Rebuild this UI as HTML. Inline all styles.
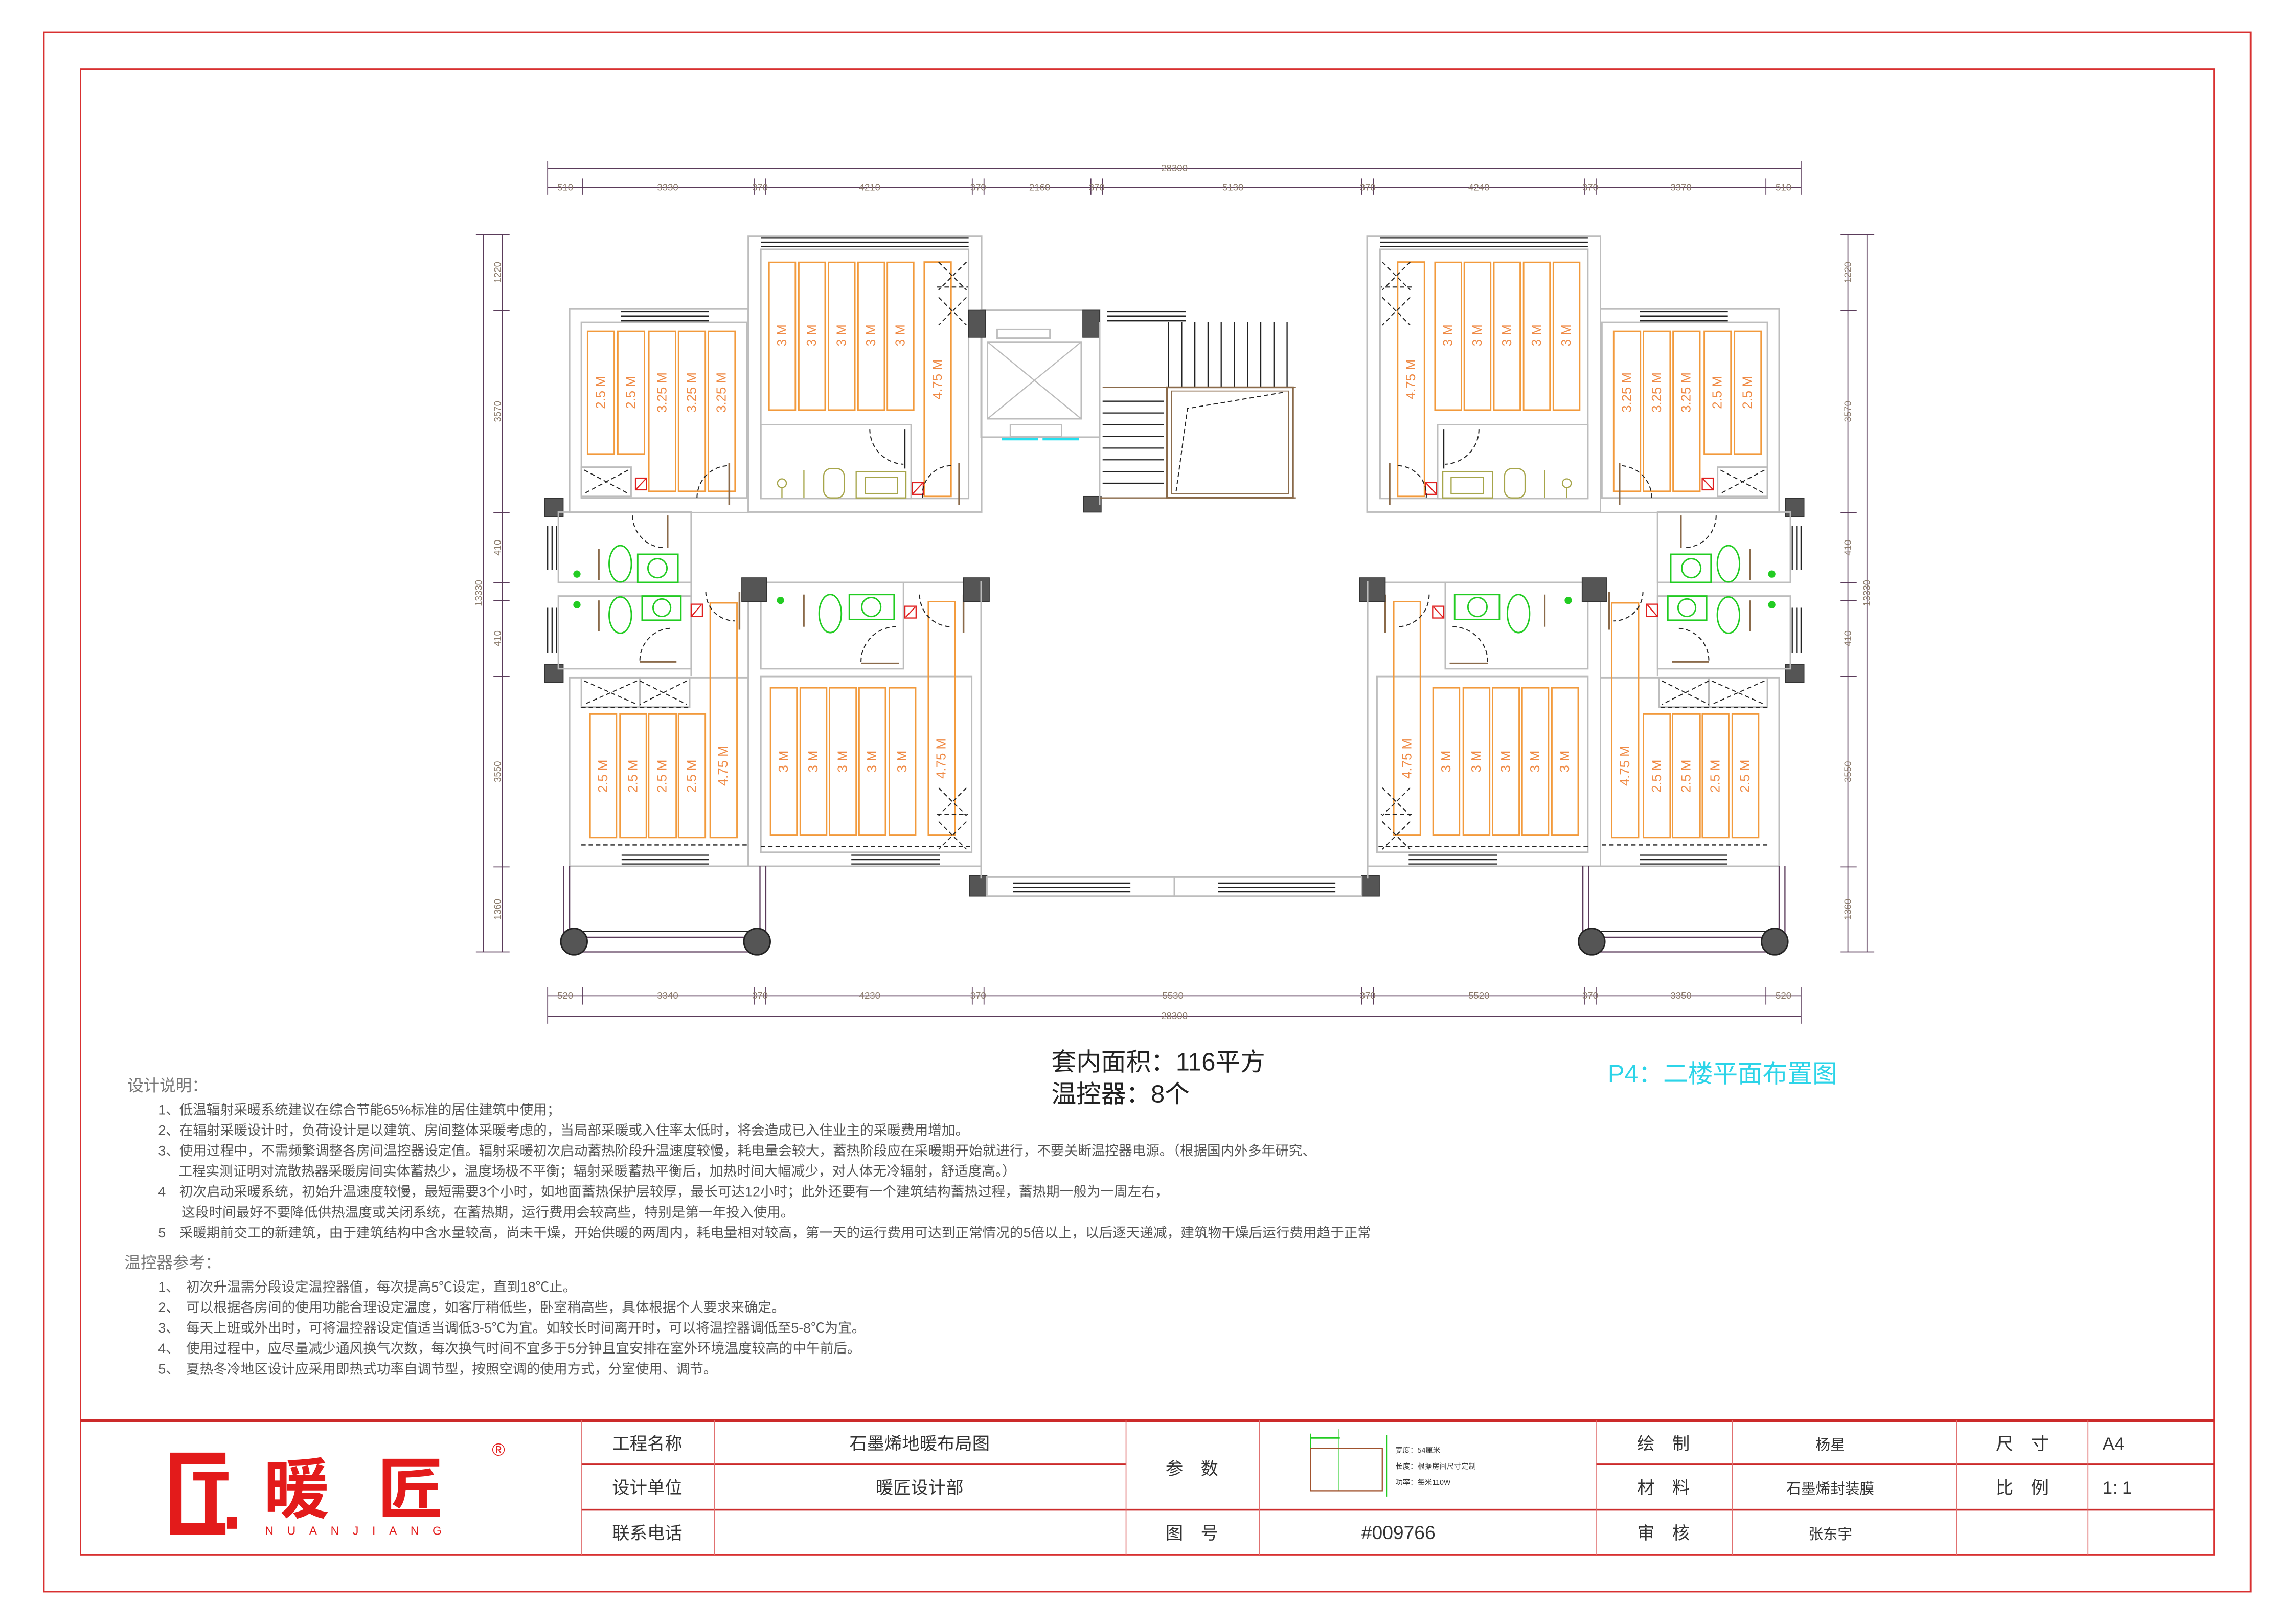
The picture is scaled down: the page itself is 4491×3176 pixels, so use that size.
<!DOCTYPE html>
<html><head><meta charset="utf-8"><style>
html,body{margin:0;padding:0;background:#fff}
svg{display:block}
text{font-family:"Liberation Sans","Noto Sans CJK SC",sans-serif}
.w{fill:none;stroke:#bdbdbd;stroke-width:1}
.st{fill:none;stroke:#f29a3c;stroke-width:1}
.sl{fill:#ef8a45;font-size:9px}
.win{stroke:#222;stroke-width:.8}
.col{fill:#555;stroke:#333;stroke-width:.6}
.dr{fill:none;stroke:#222;stroke-width:.7;stroke-dasharray:3 2}
.g{fill:none;stroke:#22cc22;stroke-width:1}
.o{fill:none;stroke:#a6a54a;stroke-width:.8}
.th{fill:none;stroke:#e02020;stroke-width:.8}
.dim{stroke:#5a3b5a;stroke-width:.6;fill:none}
.dt{fill:#8a7a6a;font-size:6.5px}
.nt{fill:#555;font-size:9.3px}
.tb{fill:#333;font-size:12px}
</style></head><body>
<svg width="4491" height="3176" viewBox="0 0 1568 1109" preserveAspectRatio="none" xmlns="http://www.w3.org/2000/svg">
<rect x="0" y="0" width="1568" height="1109" fill="#fff"/>
<rect x="30" y="22" width="1507" height="1065" fill="none" stroke="#d83030" stroke-width="1"/>
<rect x="55" y="47" width="1457" height="1015" fill="none" stroke="#d83030" stroke-width="1"/>

<defs>
<g id="L">
 <rect class="w" x="389" y="211" width="122" height="139"/>
 <rect class="w" x="397" y="220" width="113" height="120"/>
 <line class="win" x1="424" y1="213" x2="484" y2="213"/><line class="win" x1="424" y1="216" x2="484" y2="216"/><line class="win" x1="424" y1="219" x2="484" y2="219"/>
 <rect class="st" x="401.3" y="226.3" width="18.2" height="83.7"/>
 <rect class="st" x="421.9" y="226.3" width="18.2" height="83.7"/>
 <rect class="st" x="443.1" y="226.3" width="18.3" height="109.2"/>
 <rect class="st" x="463.4" y="226.3" width="18.3" height="109.2"/>
 <rect class="st" x="483.7" y="226.3" width="18.3" height="109.2"/>
 <rect class="w" x="397" y="319" width="34" height="20"/>
 <path class="dr" d="M399 321 L429 337 M429 321 L399 337"/>
 <path class="dr" d="M476 340 A22 22 0 0 1 498 318"/>
 <line x1="498" y1="316" x2="498" y2="345" stroke="#8a6a4a" stroke-width="1.2"/>
 <rect class="th" x="434" y="326.5" width="7.5" height="8"/><path class="th" d="M434.5 334 L441 327"/>
 <rect class="w" x="511" y="161.2" width="159.4" height="188.5"/>
 <rect class="w" x="519.6" y="170" width="141.9" height="170.4"/>
 <line class="win" x1="519.6" y1="162.5" x2="661.5" y2="162.5"/><line class="win" x1="519.6" y1="165.5" x2="661.5" y2="165.5"/><line class="win" x1="519.6" y1="168.5" x2="661.5" y2="168.5"/>
 <rect class="st" x="525.2" y="179.2" width="18" height="100.8"/>
 <rect class="st" x="545.5" y="179.2" width="18" height="100.8"/>
 <rect class="st" x="565.8" y="179.2" width="18" height="100.8"/>
 <rect class="st" x="586" y="179.2" width="18" height="100.8"/>
 <rect class="st" x="606" y="179.2" width="18" height="100.8"/>
 <rect class="st" x="631.2" y="179" width="18.3" height="160"/>
 <path class="dr" d="M641 179 L660 198 M660 179 L641 198 M641 203 L660 222 M660 203 L641 222 M640 196 H661"/>
 <rect class="w" x="519.6" y="290" width="102.6" height="50.4"/>
 <path class="dr" d="M594 293 A24 24 0 0 0 617 317"/>
 <line x1="618" y1="293" x2="618" y2="320" stroke="#222" stroke-width=".8"/>
 <rect class="o" x="562.5" y="320" width="14" height="20" rx="5"/>
 <rect class="o" x="584.7" y="322" width="34" height="18"/><rect class="o" x="591" y="326" width="22" height="11"/>
 <circle class="o" cx="534" cy="330" r="3"/><line class="o" x1="534" y1="333" x2="534" y2="340"/>
 <line class="o" x1="549" y1="321" x2="549" y2="340"/>
 <rect class="th" x="623" y="329.6" width="7.5" height="8"/><path class="th" d="M623.5 337 L630 330"/>
 <path class="dr" d="M630 340 A20 20 0 0 1 650 318"/>
 <line x1="655" y1="316" x2="655" y2="345" stroke="#8a6a4a" stroke-width="1.2"/>
 <rect class="col" x="372" y="340.4" width="12.6" height="12.4"/>
 <rect class="col" x="372" y="453.6" width="12.6" height="12.4"/>
 <rect class="w" x="381.3" y="349.7" width="90.7" height="48"/>
 <rect class="w" x="381.3" y="407" width="90.7" height="49.7"/>
 <line class="w" x1="472" y1="349.7" x2="472" y2="462"/>
 <line class="win" x1="374" y1="359" x2="374" y2="389"/><line class="win" x1="377" y1="359" x2="377" y2="389"/><line class="win" x1="380" y1="359" x2="380" y2="389"/>
 <line class="win" x1="374" y1="415" x2="374" y2="446"/><line class="win" x1="377" y1="415" x2="377" y2="446"/><line class="win" x1="380" y1="415" x2="380" y2="446"/>
 <ellipse class="g" cx="423.6" cy="385" rx="7.6" ry="12.4"/>
 <rect class="g" x="435.5" y="378.5" width="27.5" height="19.2"/><circle class="g" cx="449" cy="388" r="6.5"/>
 <ellipse class="g" cx="423.6" cy="420" rx="7.6" ry="12.4"/>
 <rect class="g" x="438.5" y="407" width="26.5" height="16.5"/><circle class="g" cx="452" cy="415" r="6"/>
 <circle cx="394" cy="392" r="2.5" fill="#22cc22"/><circle cx="394" cy="413" r="2.5" fill="#22cc22"/>
 <line x1="409" y1="375" x2="409" y2="396" stroke="#8a6a4a" stroke-width="1"/>
 <line x1="409" y1="410" x2="409" y2="431" stroke="#8a6a4a" stroke-width="1"/>
 <path class="dr" d="M432 352 A22 22 0 0 0 454 374"/><line x1="456" y1="352" x2="456" y2="374" stroke="#8a6a4a" stroke-width="1"/>
 <path class="dr" d="M437 451 A22 22 0 0 1 459 429"/><line x1="437" y1="452" x2="462" y2="452" stroke="#8a6a4a" stroke-width="1"/>
 <rect class="w" x="389" y="462.8" width="122" height="128.7"/>
 <rect class="w" x="397" y="462.8" width="40" height="20"/><rect class="w" x="437" y="462.8" width="34" height="20"/>
 <path class="dr" d="M399 465 L435 481 M435 465 L399 481 M437 465 L469 481 M469 465 L437 481 M397 483 H471"/>
 <rect class="st" x="403" y="487.6" width="18" height="84.3"/>
 <rect class="st" x="423.4" y="487.6" width="18" height="84.3"/>
 <rect class="st" x="443" y="487.6" width="18.8" height="84.3"/>
 <rect class="st" x="463.4" y="487.6" width="18.3" height="84.3"/>
 <rect class="st" x="485" y="411.7" width="18.3" height="160.2"/>
 <line x1="397" y1="577" x2="510" y2="577" stroke="#222" stroke-width=".8" stroke-dasharray="3 2"/>
 <line class="win" x1="424.5" y1="584" x2="484" y2="584"/><line class="win" x1="424.5" y1="587" x2="484" y2="587"/><line class="win" x1="424.5" y1="590" x2="484" y2="590"/>
 <rect class="th" x="472" y="412.6" width="7.7" height="8.4"/><path class="th" d="M472.5 420.5 L479 413"/>
 <path class="dr" d="M482 404 A20 20 0 0 0 502 424"/><line x1="505" y1="404" x2="505" y2="430" stroke="#8a6a4a" stroke-width="1.2"/>
 <rect class="w" x="511" y="397.7" width="159" height="193.8"/>
 <rect class="w" x="519.6" y="397.7" width="97.4" height="59"/>
 <rect class="w" x="519.6" y="462" width="144" height="120"/>
 <rect class="st" x="526.2" y="469.7" width="18" height="100.7"/>
 <rect class="st" x="546.5" y="469.7" width="18" height="100.7"/>
 <rect class="st" x="566.5" y="469.7" width="18.2" height="100.7"/>
 <rect class="st" x="586.7" y="469.7" width="18" height="100.7"/>
 <rect class="st" x="607.3" y="469.7" width="18" height="100.7"/>
 <rect class="st" x="634" y="410.8" width="18.2" height="159.6"/>
 <path class="dr" d="M641 538 L660 557 M660 538 L641 557 M641 561 L660 580 M660 561 L641 580 M640 556 H661"/>
 <line x1="519.6" y1="578" x2="663" y2="578" stroke="#222" stroke-width=".8" stroke-dasharray="3 2"/>
 <ellipse class="g" cx="567" cy="419" rx="7.6" ry="13"/>
 <rect class="g" x="580" y="406" width="30.6" height="17"/><circle class="g" cx="595" cy="414.5" r="6.5"/>
 <circle cx="533" cy="410" r="2.5" fill="#22cc22"/>
 <line x1="549" y1="406" x2="549" y2="428" stroke="#8a6a4a" stroke-width="1"/>
 <path class="dr" d="M588 452 A24 24 0 0 1 612 428"/><line x1="588" y1="453" x2="614" y2="453" stroke="#8a6a4a" stroke-width="1"/>
 <rect class="th" x="618" y="414" width="7.6" height="8"/><path class="th" d="M618.5 421.5 L625 414.5"/>
 <path class="dr" d="M628 406 A22 22 0 0 0 650 428"/><line x1="658" y1="406" x2="658" y2="432" stroke="#8a6a4a" stroke-width="1.2"/>
 <line class="win" x1="581.4" y1="584" x2="642" y2="584"/><line class="win" x1="581.4" y1="587" x2="642" y2="587"/><line class="win" x1="581.4" y1="590" x2="642" y2="590"/>
 <rect class="col" x="506.6" y="394.6" width="16.9" height="16.2"/>
 <rect class="col" x="658" y="394.6" width="17.6" height="16.2"/>
 <rect class="col" x="662" y="598" width="12" height="14"/>
 <line class="w" x1="670" y1="397" x2="670" y2="600"/>
 <line x1="385" y1="591.5" x2="385" y2="648" stroke="#5a3b5a" stroke-width=".8"/>
 <line x1="389" y1="591.5" x2="389" y2="648" stroke="#5a3b5a" stroke-width=".8"/>
 <line x1="519" y1="591.5" x2="519" y2="648" stroke="#5a3b5a" stroke-width=".8"/>
 <line x1="523" y1="591.5" x2="523" y2="648" stroke="#5a3b5a" stroke-width=".8"/>
 <line x1="392" y1="636" x2="517" y2="636" stroke="#222" stroke-width=".8"/><line x1="392" y1="640" x2="517" y2="640" stroke="#5a3b5a" stroke-width=".8"/><line x1="392" y1="650" x2="517" y2="650" stroke="#5a3b5a" stroke-width=".8"/>
 <circle cx="392" cy="643" r="9" fill="#555" stroke="#222"/>
 <circle cx="517" cy="643" r="9" fill="#555" stroke="#222"/>
 <rect class="w" x="674" y="599" width="128" height="13"/>
 <line class="win" x1="692" y1="603" x2="772" y2="603"/><line class="win" x1="692" y1="606" x2="772" y2="606"/><line class="win" x1="692" y1="609" x2="772" y2="609"/>
</g>
</defs>
<use href="#L"/>
<use href="#L" transform="translate(1604,0) scale(-1,1)"/>

<rect class="w" x="670" y="211.8" width="81" height="86.7"/>
<rect class="col" x="661.5" y="211.8" width="11.5" height="18.6"/>
<rect class="col" x="739.5" y="211.8" width="11.5" height="18.6"/>
<rect class="col" x="740" y="339" width="12" height="10.7"/>
<rect class="w" x="681" y="225" width="36" height="6"/>
<rect class="w" x="674.4" y="233.5" width="64" height="52.5"/>
<path d="M674.4 233.5 L738.4 286 M738.4 233.5 L674.4 286" stroke="#bbb" stroke-width=".8"/>
<rect class="w" x="690" y="290" width="35" height="8"/>
<line x1="684" y1="300" x2="709" y2="300" stroke="#22e0f0" stroke-width="1.5"/><line x1="712" y1="300" x2="737" y2="300" stroke="#22e0f0" stroke-width="1.5"/>
<line class="w" x1="751" y1="220" x2="751" y2="345"/>
<line class="win" x1="756" y1="213" x2="810" y2="213"/><line class="win" x1="756" y1="216" x2="810" y2="216"/><line class="win" x1="756" y1="219" x2="810" y2="219"/>
<g stroke="#222" stroke-width=".8">
<line x1="798" y1="220" x2="798" y2="264"/><line x1="807" y1="220" x2="807" y2="264"/><line x1="816" y1="220" x2="816" y2="264"/><line x1="825" y1="220" x2="825" y2="264"/><line x1="834" y1="220" x2="834" y2="264"/><line x1="843" y1="220" x2="843" y2="264"/><line x1="852" y1="220" x2="852" y2="264"/><line x1="861" y1="220" x2="861" y2="264"/><line x1="870" y1="220" x2="870" y2="264"/><line x1="879" y1="220" x2="879" y2="264"/>
<line x1="753" y1="274" x2="795" y2="274"/><line x1="753" y1="282" x2="795" y2="282"/><line x1="753" y1="290" x2="795" y2="290"/><line x1="753" y1="298" x2="795" y2="298"/><line x1="753" y1="306" x2="795" y2="306"/><line x1="753" y1="314" x2="795" y2="314"/><line x1="753" y1="322" x2="795" y2="322"/><line x1="753" y1="330" x2="795" y2="330"/>
</g>
<line x1="753" y1="264.5" x2="885" y2="264.5" stroke="#8a6a4a" stroke-width=".8"/>
<rect x="797" y="264.5" width="86" height="75.3" fill="none" stroke="#8a6a4a" stroke-width="1.2"/>
<rect x="800" y="267" width="80" height="70" fill="none" stroke="#8a6a4a" stroke-width=".6"/>
<path d="M876 268 L811 279 L803 337" class="dr"/>
<line x1="751" y1="340" x2="885" y2="340" stroke="#8a6a4a" stroke-width=".8"/>

<g class="dim">
<line x1="374" y1="115" x2="1230" y2="115"/><line x1="374" y1="128" x2="1230" y2="128"/>
<line x1="374" y1="680" x2="1230" y2="680"/><line x1="374" y1="694" x2="1230" y2="694"/>
<line x1="330" y1="160" x2="330" y2="650"/><line x1="343" y1="160" x2="343" y2="650"/>
<line x1="1262" y1="160" x2="1262" y2="650"/><line x1="1275" y1="160" x2="1275" y2="650"/>
<path d="M374 110V133 M398 122V133 M515 122V133 M523 122V133 M664 122V133 M672 122V133 M745 122V133 M753 122V133 M930 122V133 M938 122V133 M1082 122V133 M1090 122V133 M1206 122V133 M1230 110V133"/>
<path d="M374 674V699 M398 674V686 M515 674V686 M523 674V686 M664 674V686 M672 674V686 M930 674V686 M938 674V686 M1082 674V686 M1090 674V686 M1206 674V686 M1230 674V699"/>
<path d="M325 160H348 M337 212H348 M337 350H348 M337 398H348 M337 410H348 M337 462H348 M337 592H348 M325 650H348"/>
<path d="M1257 160H1280 M1257 212H1268 M1257 350H1268 M1257 398H1268 M1257 410H1268 M1257 462H1268 M1257 592H1268 M1257 650H1280"/>
</g>
<g class="dt" text-anchor="middle">
<text x="802" y="117">28300</text>
<text x="386" y="130">510</text><text x="456" y="130">3330</text><text x="519" y="130">370</text><text x="594" y="130">4210</text><text x="668" y="130">370</text><text x="710" y="130">2160</text><text x="749" y="130">370</text><text x="842" y="130">5130</text><text x="934" y="130">370</text><text x="1010" y="130">4240</text><text x="1086" y="130">370</text><text x="1148" y="130">3370</text><text x="1218" y="130">510</text>
<text x="386" y="682">520</text><text x="456" y="682">3340</text><text x="519" y="682">370</text><text x="594" y="682">4230</text><text x="668" y="682">370</text><text x="801" y="682">5530</text><text x="934" y="682">370</text><text x="1010" y="682">5520</text><text x="1086" y="682">370</text><text x="1148" y="682">3350</text><text x="1218" y="682">520</text>
<text x="802" y="696">28300</text>
<text transform="translate(342,186) rotate(-90)">1220</text><text transform="translate(342,281) rotate(-90)">3570</text><text transform="translate(342,374) rotate(-90)">410</text><text transform="translate(329,405) rotate(-90)">13330</text><text transform="translate(342,436) rotate(-90)">410</text><text transform="translate(342,527) rotate(-90)">3550</text><text transform="translate(342,621) rotate(-90)">1360</text>
<text transform="translate(1264,186) rotate(-90)">1220</text><text transform="translate(1264,281) rotate(-90)">3570</text><text transform="translate(1264,374) rotate(-90)">410</text><text transform="translate(1277,405) rotate(-90)">13330</text><text transform="translate(1264,436) rotate(-90)">410</text><text transform="translate(1264,527) rotate(-90)">3550</text><text transform="translate(1264,621) rotate(-90)">1360</text>
</g>

<g class="sl" text-anchor="middle" dominant-baseline="central">
<text transform="translate(410.4,268) rotate(-90)">2.5 M</text><text transform="translate(431,268) rotate(-90)">2.5 M</text><text transform="translate(452.3,268) rotate(-90)">3.25 M</text><text transform="translate(472.5,268) rotate(-90)">3.25 M</text><text transform="translate(492.8,268) rotate(-90)">3.25 M</text>
<text transform="translate(534.2,229) rotate(-90)">3 M</text><text transform="translate(554.5,229) rotate(-90)">3 M</text><text transform="translate(574.8,229) rotate(-90)">3 M</text><text transform="translate(595,229) rotate(-90)">3 M</text><text transform="translate(615,229) rotate(-90)">3 M</text><text transform="translate(640.3,259) rotate(-90)">4.75 M</text>
<text transform="translate(412,530) rotate(-90)">2.5 M</text><text transform="translate(432.4,530) rotate(-90)">2.5 M</text><text transform="translate(452.4,530) rotate(-90)">2.5 M</text><text transform="translate(472.5,530) rotate(-90)">2.5 M</text><text transform="translate(494,523) rotate(-90)">4.75 M</text>
<text transform="translate(535.2,520) rotate(-90)">3 M</text><text transform="translate(555.5,520) rotate(-90)">3 M</text><text transform="translate(575.6,520) rotate(-90)">3 M</text><text transform="translate(595.7,520) rotate(-90)">3 M</text><text transform="translate(616.3,520) rotate(-90)">3 M</text><text transform="translate(643,518) rotate(-90)">4.75 M</text>
<text transform="translate(1193.6,268) rotate(-90)">2.5 M</text><text transform="translate(1173,268) rotate(-90)">2.5 M</text><text transform="translate(1151.7,268) rotate(-90)">3.25 M</text><text transform="translate(1131.5,268) rotate(-90)">3.25 M</text><text transform="translate(1111.2,268) rotate(-90)">3.25 M</text>
<text transform="translate(1069.8,229) rotate(-90)">3 M</text><text transform="translate(1049.5,229) rotate(-90)">3 M</text><text transform="translate(1029.2,229) rotate(-90)">3 M</text><text transform="translate(1009,229) rotate(-90)">3 M</text><text transform="translate(989,229) rotate(-90)">3 M</text><text transform="translate(963.7,259) rotate(-90)">4.75 M</text>
<text transform="translate(1192,530) rotate(-90)">2.5 M</text><text transform="translate(1171.6,530) rotate(-90)">2.5 M</text><text transform="translate(1151.6,530) rotate(-90)">2.5 M</text><text transform="translate(1131.5,530) rotate(-90)">2.5 M</text><text transform="translate(1110,523) rotate(-90)">4.75 M</text>
<text transform="translate(1068.8,520) rotate(-90)">3 M</text><text transform="translate(1048.5,520) rotate(-90)">3 M</text><text transform="translate(1028.4,520) rotate(-90)">3 M</text><text transform="translate(1008.3,520) rotate(-90)">3 M</text><text transform="translate(987.7,520) rotate(-90)">3 M</text><text transform="translate(961,518) rotate(-90)">4.75 M</text>
</g>

<text x="718" y="731" font-size="17" fill="#222">套内面积：116平方</text>
<text x="718" y="753" font-size="17" fill="#222">温控器：8个</text>
<text x="1098" y="739" font-size="17" fill="#2cd4e8" font-family="Liberation Serif,Noto Serif CJK SC,serif">P4：二楼平面布置图</text>

<text x="87" y="745" font-size="11" fill="#777">设计说明：</text>
<g class="nt">
<text x="108" y="761">1、低温辐射采暖系统建议在综合节能65%标准的居住建筑中使用；</text>
<text x="108" y="775">2、在辐射采暖设计时，负荷设计是以建筑、房间整体采暖考虑的，当局部采暖或入住率太低时，将会造成已入住业主的采暖费用增加。</text>
<text x="108" y="789">3、使用过程中，不需频繁调整各房间温控器设定值。辐射采暖初次启动蓄热阶段升温速度较慢，耗电量会较大，蓄热阶段应在采暖期开始就进行，不要关断温控器电源。（根据国内外多年研究、</text>
<text x="122" y="803">工程实测证明对流散热器采暖房间实体蓄热少，温度场极不平衡；辐射采暖蓄热平衡后，加热时间大幅减少，对人体无冷辐射，舒适度高。）</text>
<text x="108" y="817">4　初次启动采暖系统，初始升温速度较慢，最短需要3个小时，如地面蓄热保护层较厚，最长可达12小时；此外还要有一个建筑结构蓄热过程，蓄热期一般为一周左右，</text>
<text x="124" y="831">这段时间最好不要降低供热温度或关闭系统，在蓄热期，运行费用会较高些，特别是第一年投入使用。</text>
<text x="108" y="845">5　采暖期前交工的新建筑，由于建筑结构中含水量较高，尚未干燥，开始供暖的两周内，耗电量相对较高，第一天的运行费用可达到正常情况的5倍以上，以后逐天递减，建筑物干燥后运行费用趋于正常</text>
</g>
<text x="85" y="866" font-size="11" fill="#777">温控器参考：</text>
<g class="nt">
<text x="108" y="882">1、　初次升温需分段设定温控器值，每次提高5℃设定，直到18℃止。</text>
<text x="108" y="896">2、　可以根据各房间的使用功能合理设定温度，如客厅稍低些，卧室稍高些，具体根据个人要求来确定。</text>
<text x="108" y="910">3、　每天上班或外出时，可将温控器设定值适当调低3-5℃为宜。如较长时间离开时，可以将温控器调低至5-8℃为宜。</text>
<text x="108" y="924">4、　使用过程中，应尽量减少通风换气次数，每次换气时间不宜多于5分钟且宜安排在室外环境温度较高的中午前后。</text>
<text x="108" y="938">5、　夏热冬冷地区设计应采用即热式功率自调节型，按照空调的使用方式，分室使用、调节。</text>
</g>

<g stroke="#cc2a2a">
<line x1="55" y1="970" x2="1512" y2="970" stroke-width="1.6"/>
<line x1="397" y1="1000" x2="769" y2="1000" stroke-width="1.2"/>
<line x1="1090" y1="1000" x2="1512" y2="1000" stroke-width="1.2"/>
<line x1="397" y1="1031" x2="1512" y2="1031" stroke-width="1.2"/>
</g>
<g stroke="#e07070" stroke-width=".6">
<line x1="397" y1="970" x2="397" y2="1062"/><line x1="488" y1="970" x2="488" y2="1062"/><line x1="769" y1="970" x2="769" y2="1062"/><line x1="860" y1="970" x2="860" y2="1062"/><line x1="1090" y1="970" x2="1090" y2="1062"/><line x1="1183" y1="970" x2="1183" y2="1062"/><line x1="1336" y1="970" x2="1336" y2="1062"/><line x1="1426" y1="970" x2="1426" y2="1062"/>
</g>
<g class="tb" text-anchor="middle">
<text x="442" y="990">工程名称</text><text x="442" y="1020">设计单位</text><text x="442" y="1051">联系电话</text>
<text x="628" y="990">石墨烯地暖布局图</text><text x="628" y="1020">暖匠设计部</text>
<text x="814" y="1007">参　数</text><text x="814" y="1051">图　号</text>
<text x="955" y="1051" font-size="13">#009766</text>
<text x="1136" y="990">绘　制</text><text x="1136" y="1020">材　料</text><text x="1136" y="1051">审　核</text>
<text x="1250" y="990" font-size="10">杨星</text><text x="1250" y="1020" font-size="10">石墨烯封装膜</text><text x="1250" y="1051" font-size="10">张东宇</text>
<text x="1381" y="990">尺　寸</text><text x="1381" y="1020">比　例</text>
</g>
<text x="1436" y="990" class="tb">A4</text><text x="1436" y="1020" class="tb">1: 1</text>
<g>
<line x1="895" y1="982" x2="915" y2="982" stroke="#22cc22" stroke-width="1"/>
<line x1="895" y1="979" x2="895" y2="1018" stroke="#22cc22" stroke-width=".5"/>
<line x1="914" y1="976" x2="914" y2="1018" stroke="#22cc22" stroke-width=".5"/>
<rect x="895" y="989" width="49" height="29" fill="none" stroke="#a0522d" stroke-width=".8"/>
<line x1="947" y1="980" x2="947" y2="1022" stroke="#22cc22" stroke-width=".6"/>
<text x="953" y="992" font-size="5" fill="#333">宽度：54厘米</text>
<text x="953" y="1003" font-size="5" fill="#333">长度：根据房间尺寸定制</text>
<text x="953" y="1014" font-size="5" fill="#333">功率：每米110W</text>
</g>
<g fill="#e31b1b">
<path d="M116 992 H154 V1000 H124 V1040 H154 V1048 H116 Z"/>
<path d="M132 1005 H156 V1011 H148 V1040 H140 V1011 H132 Z"/>
<rect x="155" y="1036" width="7" height="8"/>
<text x="180" y="1033" font-size="45" font-weight="bold" font-family="Noto Sans CJK SC,sans-serif">暖</text>
<text x="258" y="1033" font-size="45" font-weight="bold" font-family="Noto Sans CJK SC,sans-serif">匠</text>
<text x="181" y="1048" font-size="8" letter-spacing="9.3">NUANJIANG</text>
<text x="336" y="994" font-size="12">®</text>
</g>
</svg>
</body></html>
